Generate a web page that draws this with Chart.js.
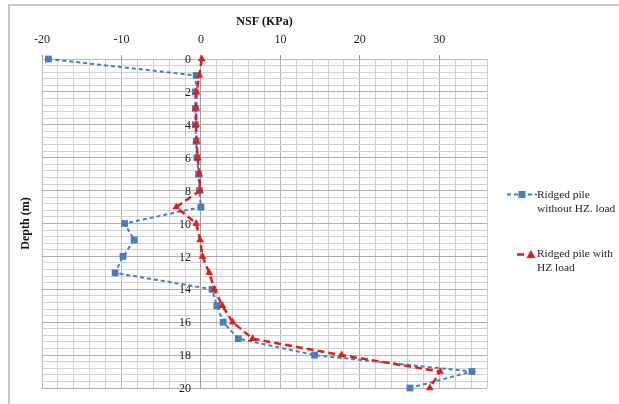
<!DOCTYPE html>
<html>
<head>
<meta charset="utf-8">
<script src="https://cdn.jsdelivr.net/npm/chart.js@4"></script>
<style>
  html, body { margin: 0; padding: 0; background: #fff; }
  #wrap { position: relative; width: 619px; height: 404px; overflow: hidden; }
  #frame { position: absolute; left: 8px; top: 4px; width: 700px; height: 500px;
           border-top: 2px solid #c8c8c8; border-left: 2px solid #c8c8c8; }
  canvas { position: absolute; left: 0; top: 0; }
</style>
</head>
<body>
<div id="wrap">
  <div id="frame"></div>
  <canvas id="c" width="619" height="404"></canvas>
</div>
<script>
// ---- data ----
const depths = [0, 1, 2, 3, 4, 5, 6, 7, 8, 9, 10, 11, 12, 13, 14, 15, 16, 17, 18, 19, 20];
const nsfWithoutHZ = [-19.2, -0.6, -0.7, -0.7, -0.7, -0.6, -0.5, -0.3, -0.2, 0.0, -9.6, -8.4, -9.8, -10.8, 1.4, 2.0, 2.8, 4.7, 14.3, 34.1, 26.3];
const nsfWithHZ = [0.1, -0.2, -0.55, -0.6, -0.6, -0.55, -0.4, -0.2, -0.1, -3.1, -0.6, -0.1, 0.2, 1.05, 1.7, 2.7, 4.0, 6.5, 17.7, 30.1, 28.8];
const seriesNames = [["Ridged pile", "without HZ. load"], ["Ridged pile with", "HZ load"]];
const xTickLabels = [-20, -10, 0, 10, 20, 30];
const yTickLabels = [0, 2, 4, 6, 8, 10, 12, 14, 16, 18, 20];
const xTitle = "NSF (KPa)";
const yTitle = "Depth (m)";

const BLUE = '#4a7ebb';
const RED = '#dd1f1f';
const FONT = "'Liberation Serif', 'Times New Roman', serif";

const near = (v, arr) => arr.some(a => Math.abs(a - v) < 1e-6);

const decorPlugin = {
  id: 'decor',
  beforeDatasetsDraw(chart) {
    // depth tick labels placed beside the vertical axis at x = 0
    const ctx = chart.ctx;
    const xs = chart.scales.x, ys = chart.scales.y;
    const x0 = xs.getPixelForValue(0);
    ctx.save();
    ctx.font = "12px " + FONT;
    ctx.fillStyle = '#222';
    ctx.textAlign = 'right';
    ctx.textBaseline = 'middle';
    yTickLabels.forEach(v => ctx.fillText(String(v), x0 - 10, ys.getPixelForValue(v) + 1));
    ctx.restore();
  },
  afterDraw(chart) {
    const ctx = chart.ctx;
    ctx.save();
    // y title
    ctx.font = "bold 12px " + FONT;
    ctx.fillStyle = '#111';
    ctx.textAlign = 'center';
    ctx.textBaseline = 'middle';
    ctx.translate(26, (chart.chartArea.top + chart.chartArea.bottom) / 2);
    ctx.rotate(-Math.PI / 2);
    ctx.fillText(yTitle, 0, 0);
    ctx.restore();

    ctx.save();
    // blue entry
    ctx.strokeStyle = BLUE; ctx.lineWidth = 2; ctx.setLineDash([4, 3]);
    ctx.beginPath(); ctx.moveTo(507, 194.5); ctx.lineTo(537, 194.5); ctx.stroke();
    ctx.setLineDash([]);
    ctx.fillStyle = BLUE; ctx.fillRect(518.5, 191, 7, 7);
    // red entry
    ctx.strokeStyle = RED; ctx.lineWidth = 2.5; ctx.setLineDash([7, 4]);
    ctx.beginPath(); ctx.moveTo(517, 254.5); ctx.lineTo(526, 254.5); ctx.stroke();
    ctx.setLineDash([]);
    ctx.fillStyle = RED;
    ctx.beginPath(); ctx.moveTo(531, 250); ctx.lineTo(535.5, 258); ctx.lineTo(526.5, 258); ctx.closePath(); ctx.fill();
    // texts
    ctx.font = "11.4px " + FONT;
    ctx.fillStyle = '#222';
    ctx.textAlign = 'left';
    ctx.textBaseline = 'middle';
    ctx.fillText(seriesNames[0][0], 537, 195);
    ctx.fillText(seriesNames[0][1], 537, 209);
    ctx.fillText(seriesNames[1][0], 537, 254);
    ctx.fillText(seriesNames[1][1], 537, 268);
    ctx.restore();
  }
};

new Chart(document.getElementById('c'), {
  type: 'scatter',
  data: {
    datasets: [
      {
        label: seriesNames[0].join(' '),
        data: depths.map((d, i) => ({ x: nsfWithoutHZ[i], y: d })),
        showLine: true,
        clip: false,
        borderColor: BLUE,
        backgroundColor: BLUE,
        borderWidth: 2,
        borderDash: [4, 3],
        pointStyle: 'rect',
        pointRadius: 4.8,
        pointBorderWidth: 0,
        order: 2
      },
      {
        label: seriesNames[1].join(' '),
        data: depths.map((d, i) => ({ x: nsfWithHZ[i], y: d })),
        showLine: true,
        clip: false,
        borderColor: RED,
        backgroundColor: RED,
        borderWidth: 2.5,
        borderDash: [7, 4],
        pointStyle: 'triangle',
        pointRadius: 4.5,
        pointBorderWidth: 0,
        order: 1
      }
    ]
  },
  options: {
    responsive: false,
    animation: false,
    layout: { padding: { left: 42, right: 132, top: 0, bottom: 16 } },
    plugins: { legend: { display: false }, tooltip: { enabled: false } },
    scales: {
      x: {
        type: 'linear',
        position: 'top',
        min: -20, max: 36,
        afterFit: (s) => { s.height = 59; },
        ticks: {
          stepSize: 2, autoSkip: false, maxRotation: 0, padding: 8,
          color: '#222', font: { family: FONT, size: 12 },
          callback: (v) => near(v, xTickLabels) ? String(Math.round(v)) : ''
        },
        grid: {
          color: (c) => c.tick && near(c.tick.value, xTickLabels) ? '#b8b8b8' : '#cfcfcf',
          tickColor: (c) => c.tick && near(c.tick.value, xTickLabels) ? '#999' : 'rgba(0,0,0,0)',
          tickLength: 4
        },
        border: { color: '#bbb' },
        title: { display: true, text: xTitle, color: '#111', font: { family: FONT, size: 12, weight: 'bold' }, padding: { top: 15, bottom: 0 } }
      },
      y: {
        type: 'linear',
        position: { x: 0 },
        reverse: true,
        min: 0, max: 20,
        ticks: {
          display: false,
          stepSize: 0.4, autoSkip: false,
          callback: (v) => near(v, yTickLabels) ? String(Math.round(v)) : ''
        },
        grid: {
          color: (c) => c.tick && near(c.tick.value, yTickLabels) ? '#b0b0b0' : '#d2d2d2',
          drawTicks: false
        },
        border: { color: '#a0a0a0' }
      }
    }
  },
  plugins: [decorPlugin]
});
</script>
</body>
</html>
